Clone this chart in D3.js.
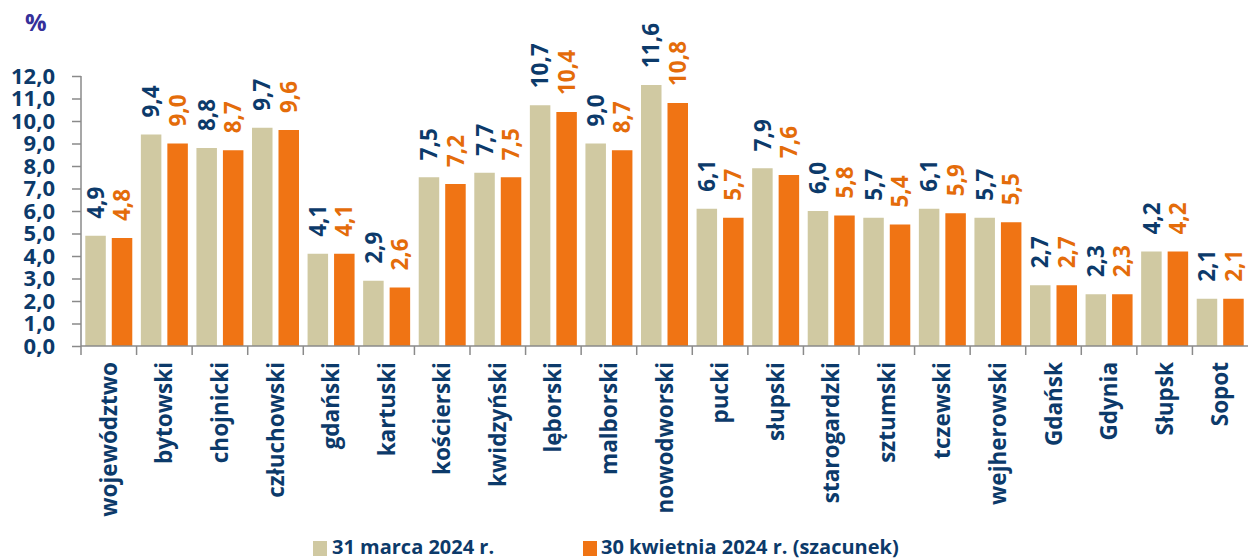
<!DOCTYPE html>
<html><head><meta charset="utf-8">
<script src="https://cdn.jsdelivr.net/npm/d3@7"></script>
<style>body{margin:0;background:#fff}svg{display:block}</style>
</head><body>
<svg id="c" width="1248" height="560"></svg>
<script>
const categories = ["województwo","bytowski","chojnicki","człuchowski","gdański","kartuski","kościerski","kwidzyński","lęborski","malborski","nowodworski","pucki","słupski","starogardzki","sztumski","tczewski","wejherowski","Gdańsk","Gdynia","Słupsk","Sopot"];
const march = [4.9,9.4,8.8,9.7,4.1,2.9,7.5,7.7,10.7,9.0,11.6,6.1,7.9,6.0,5.7,6.1,5.7,2.7,2.3,4.2,2.1];
const april = [4.8,9.0,8.7,9.6,4.1,2.6,7.2,7.5,10.4,8.7,10.8,5.7,7.6,5.8,5.4,5.9,5.5,2.7,2.3,4.2,2.1];
const seriesNames = ["31 marca 2024 r.","30 kwietnia 2024 r. (szacunek)"];
const yTicks = [0,1,2,3,4,5,6,7,8,9,10,11,12];
const unitLabel = "%";

const FONT = "'Open Sans', sans-serif";
const blue = "#0c3a6a", orangeTxt = "#e46c0a";
const colors = ["#d0c9a2","#f07414"];
const labelColors = [blue, orangeTxt];
const series = [march, april];

const svg = d3.select("#c");
const x = d3.scaleBand().domain(categories).range([81,1248]).padding(0);
const xs = d3.scaleBand().domain([0,1]).range([0,x.bandwidth()]).paddingInner(0.226).paddingOuter(0.162);
const y = d3.scaleLinear().domain([0,12]).range([346,76]);
const fmt = v => v.toFixed(1).replace(".",",");

// bars
series.forEach((vals,si)=>{
  svg.append("g").selectAll("rect").data(categories).join("rect")
    .attr("x",d=>x(d)+xs(si)).attr("width",xs.bandwidth())
    .attr("y",(d,i)=>y(vals[i])).attr("height",(d,i)=>y(0)-y(vals[i]))
    .attr("fill",colors[si]);
});
// value labels
series.forEach((vals,si)=>{
  svg.append("g").selectAll("text").data(categories).join("text")
    .attr("transform",(d,i)=>`translate(${x(d)+xs(si)+xs.bandwidth()/2},${y(vals[i])-17}) rotate(-90)`)
    .attr("dy","0.36em").attr("text-anchor","start")
    .attr("font-family",FONT).attr("font-weight",700).attr("font-size",22.5)
    .attr("fill",labelColors[si]).text((d,i)=>fmt(vals[i]));
});

// y axis
const yAxis = svg.append("g").attr("transform","translate(81,0)")
  .call(d3.axisLeft(y).tickValues(yTicks).tickSize(9).tickPadding(17).tickFormat(fmt));
yAxis.select(".domain").attr("stroke","#8a8a8a").attr("stroke-width",1.5).attr("d","M0,76V346");
yAxis.selectAll(".tick line").attr("stroke","#8a8a8a").attr("stroke-width",1.5);
yAxis.selectAll(".tick text").attr("font-family",FONT).attr("font-weight",700).attr("font-size",22).attr("fill",blue);

// x axis
const xg = svg.append("g");
xg.append("line").attr("x1",81).attr("x2",1248).attr("y1",346).attr("y2",346).attr("stroke","#8a8a8a").attr("stroke-width",1.5);
xg.selectAll("line.t").data(categories).join("line").attr("class","t")
  .attr("x1",d=>x(d)).attr("x2",d=>x(d)).attr("y1",346).attr("y2",355)
  .attr("stroke","#8a8a8a").attr("stroke-width",1.5);
xg.selectAll("text").data(categories).join("text")
  .attr("transform",d=>`translate(${x(d)+x.bandwidth()/2},362) rotate(-90)`)
  .attr("dy","0.36em").attr("text-anchor","end")
  .attr("font-family",FONT).attr("font-weight",700).attr("font-size",22.5).attr("fill",blue)
  .text(d=>d);

// unit
svg.append("text").attr("x",25).attr("y",31).attr("font-family",FONT).attr("font-weight",700)
  .attr("font-size",24).attr("fill","#35309a").text(unitLabel);

// legend
const leg = [[313,332],[583,601]];
series.forEach((s,si)=>{
  svg.append("rect").attr("x",leg[si][0]).attr("y",541).attr("width",14).attr("height",15).attr("fill",colors[si]);
  svg.append("text").attr("x",leg[si][1]).attr("y",554).attr("font-family",FONT).attr("font-weight",700)
    .attr("font-size",20).attr("fill",blue).text(seriesNames[si]);
});
</script>
</body></html>
